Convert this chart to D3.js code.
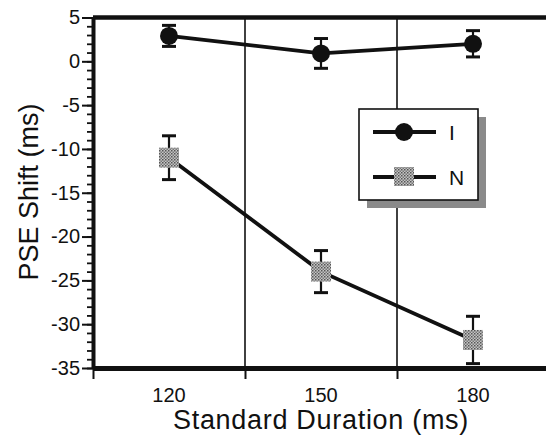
<!DOCTYPE html>
<html lang="en">
<head>
<meta charset="UTF-8">
<title>PSE Shift</title>
<script src="https://d3js.org/d3.v7.min.js"></script>
<style>
  body { margin: 0; background: #fff; }
  svg { display: block; font-family: "Liberation Sans", Arial, sans-serif; }
</style>
</head>
<body>
<script>
// data
const durations = [120, 150, 180];
const iMeans = [2.9, 0.9, 2.0];
const iErrs = [1.2, 1.7, 1.5];
const nMeans = [-11.0, -24.0, -31.8];
const nErrs = [2.5, 2.4, 2.7];
const yTicks = [5, 0, -5, -10, -15, -20, -25, -30, -35];
const xDividers = [105, 135, 165, 195];
const seriesNames = ["I", "N"];

const width = 546, height = 437;

const svg = d3.select("body").append("svg")
  .attr("width", width)
  .attr("height", height);

// stipple fill for the square markers
const defs = svg.append("defs");
const pat = defs.append("pattern")
  .attr("id", "stipple").attr("patternUnits", "userSpaceOnUse")
  .attr("width", 3).attr("height", 3);
pat.append("rect").attr("width", 3).attr("height", 3).attr("fill", "#c4c4c4");
pat.append("rect").attr("width", 1.5).attr("height", 1.5).attr("fill", "#555");
pat.append("rect").attr("x", 1.5).attr("y", 1.5).attr("width", 1.5).attr("height", 1.5).attr("fill", "#777");

const x = d3.scaleLinear().domain([105, 195]).range([93, 549]);
const y = d3.scaleLinear().domain([-35, 5]).range([368, 17.5]);

// vertical divider lines
svg.selectAll("line.div")
  .data([135, 165])
  .enter().append("line")
  .attr("x1", d => x(d)).attr("x2", d => x(d))
  .attr("y1", y(5)).attr("y2", y(-35))
  .attr("stroke", "#111").attr("stroke-width", 1.6);

// top border
svg.append("line")
  .attr("x1", x(105)).attr("x2", width)
  .attr("y1", y(5)).attr("y2", y(5))
  .attr("stroke", "#111").attr("stroke-width", 4.5);

// y axis: minor ticks each unit, major every 5
const yMinor = svg.append("g")
  .attr("transform", "translate(" + x(105) + ",0)")
  .call(d3.axisLeft(y).ticks(40).tickSize(6).tickFormat(""));
yMinor.select(".domain").remove();
yMinor.selectAll("line").attr("stroke", "#111").attr("stroke-width", 1.8);

const yAxis = svg.append("g")
  .attr("transform", "translate(" + x(105) + ",0)")
  .call(d3.axisLeft(y).tickValues(yTicks).tickSize(11).tickPadding(2)
    .tickSizeOuter(0).tickFormat(d => String(d)));
yAxis.select(".domain").attr("stroke", "#111").attr("stroke-width", 4);
yAxis.selectAll("line").attr("stroke", "#111").attr("stroke-width", 2);
yAxis.selectAll("text").attr("font-size", 20).attr("fill", "#111")
  .attr("font-family", "Liberation Sans, Arial, sans-serif");

// x axis: tick marks at dividers, labels at durations
const xAxis = svg.append("g")
  .attr("transform", "translate(0," + y(-35) + ")")
  .call(d3.axisBottom(x).tickValues(xDividers).tickSize(11).tickSizeOuter(0).tickFormat(""));
xAxis.select(".domain").attr("stroke", "#111").attr("stroke-width", 5);
xAxis.selectAll("line").attr("stroke", "#111").attr("stroke-width", 2);

svg.selectAll("text.xlab")
  .data(durations)
  .enter().append("text")
  .attr("x", d => x(d)).attr("y", 402)
  .attr("text-anchor", "middle").attr("font-size", 20).attr("fill", "#111")
  .text(d => d);

// axis titles
svg.append("text")
  .attr("x", 321).attr("y", 429)
  .attr("text-anchor", "middle").attr("font-size", 27).attr("fill", "#111")
  .attr("letter-spacing", 0.7)
  .text("Standard Duration (ms)");

svg.append("text")
  .attr("transform", "translate(38,192) rotate(-90)")
  .attr("text-anchor", "middle").attr("font-size", 27).attr("fill", "#111")
  .text("PSE Shift (ms)");

// series
const line = d3.line().x(d => x(d.x)).y(d => y(d.y));
const iData = durations.map((d, i) => ({ x: d, y: iMeans[i], e: iErrs[i] }));
const nData = durations.map((d, i) => ({ x: d, y: nMeans[i], e: nErrs[i] }));

function errorBars(data) {
  const g = svg.append("g");
  g.selectAll("line.v").data(data).enter().append("line")
    .attr("x1", d => x(d.x)).attr("x2", d => x(d.x))
    .attr("y1", d => y(d.y + d.e)).attr("y2", d => y(d.y - d.e))
    .attr("stroke", "#111").attr("stroke-width", 2.2);
  [1, -1].forEach(s => {
    g.selectAll("line.c" + s).data(data).enter().append("line")
      .attr("x1", d => x(d.x) - 7).attr("x2", d => x(d.x) + 7)
      .attr("y1", d => y(d.y + s * d.e)).attr("y2", d => y(d.y + s * d.e))
      .attr("stroke", "#111").attr("stroke-width", 3);
  });
}

svg.append("path").datum(nData).attr("d", line)
  .attr("fill", "none").attr("stroke", "#111").attr("stroke-width", 3.8);
errorBars(nData);
svg.selectAll("rect.n").data(nData).enter().append("rect")
  .attr("x", d => x(d.x) - 10).attr("y", d => y(d.y) - 10)
  .attr("width", 20).attr("height", 20)
  .attr("fill", "url(#stipple)");

svg.append("path").datum(iData).attr("d", line)
  .attr("fill", "none").attr("stroke", "#111").attr("stroke-width", 3.8);
errorBars(iData);
svg.selectAll("circle.i").data(iData).enter().append("circle")
  .attr("cx", d => x(d.x)).attr("cy", d => y(d.y)).attr("r", 9)
  .attr("fill", "#111");

// legend with drop shadow
const lg = svg.append("g").attr("transform", "translate(359,109)");
lg.append("rect").attr("x", 8).attr("y", 8).attr("width", 119).attr("height", 91)
  .attr("fill", "#8a8a8a");
lg.append("rect").attr("width", 119).attr("height", 91)
  .attr("fill", "#fff").attr("stroke", "#111").attr("stroke-width", 1.6);

seriesNames.forEach((name, i) => {
  const yy = 23 + i * 45;
  lg.append("line").attr("x1", 14).attr("x2", 77).attr("y1", yy).attr("y2", yy)
    .attr("stroke", "#111").attr("stroke-width", 4);
  if (i === 0) {
    lg.append("circle").attr("cx", 45).attr("cy", yy).attr("r", 9).attr("fill", "#111");
  } else {
    lg.append("rect").attr("x", 35).attr("y", yy - 10).attr("width", 20).attr("height", 19)
      .attr("fill", "url(#stipple)");
  }
  lg.append("text").attr("x", 90).attr("y", yy + 7.5)
    .attr("font-size", 21).attr("fill", "#111").text(name);
});
</script>
</body>
</html>
